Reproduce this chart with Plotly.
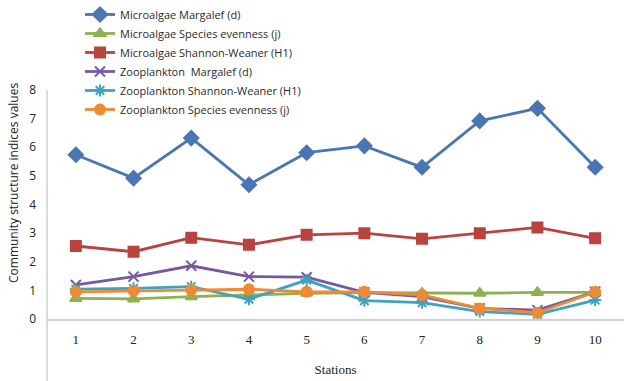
import plotly.graph_objects as go

# Sampling stations along the x axis
stations = [1, 2, 3, 4, 5, 6, 7, 8, 9, 10]
y_ticks = [0, 1, 2, 3, 4, 5, 6, 7, 8]

# Community structure indices per station
micro_margalef = [5.74, 4.92, 6.32, 4.69, 5.81, 6.05, 5.30, 6.92, 7.36, 5.30]
micro_evenness = [0.72, 0.70, 0.78, 0.84, 0.90, 0.92, 0.90, 0.90, 0.93, 0.93]
micro_shannon = [2.55, 2.35, 2.84, 2.59, 2.94, 3.00, 2.80, 3.00, 3.20, 2.82]
zoo_margalef = [1.19, 1.48, 1.86, 1.48, 1.46, 0.93, 0.78, 0.37, 0.31, 0.95]
zoo_shannon = [1.04, 1.07, 1.13, 0.69, 1.36, 0.64, 0.57, 0.26, 0.16, 0.66]
zoo_evenness = [0.95, 0.99, 1.01, 1.04, 0.95, 0.95, 0.84, 0.37, 0.22, 0.95]

series = [
    ("Microalgae Margalef (d)", micro_margalef, "#4A76B4", "diamond", 11),
    ("Microalgae Species evenness (j)", micro_evenness, "#8DB14E", "triangle-up", 10),
    ("Microalgae Shannon-Weaner (H1)", micro_shannon, "#B8433F", "square", 10),
    ("Zooplankton  Margalef (d)", zoo_margalef, "#7659A0", "x-thin-open", 10),
    ("Zooplankton Shannon-Weaner (H1)", zoo_shannon, "#3FA3BE", "asterisk-open", 10),
    ("Zooplankton Species evenness (j)", zoo_evenness, "#EE8A35", "circle", 10),
]

fig = go.Figure()
for name, vals, color, symbol, size in series:
    fig.add_trace(go.Scatter(
        x=stations, y=vals, name=name, mode="lines+markers",
        line=dict(color=color, width=2.8),
        marker=dict(symbol=symbol, size=size, color=color,
                    line=dict(color=color, width=2)),
    ))

sans = "Open Sans, sans-serif"
serif = "Liberation Serif, Times New Roman, serif"

fig.update_layout(
    width=624, height=381,
    margin=dict(l=47, r=0, t=90, b=62),
    paper_bgcolor="white", plot_bgcolor="white",
    showlegend=True,
    legend=dict(x=(80 - 47) / 577, y=1 + 90 / 229, xanchor="left", yanchor="top",
                font=dict(family=sans, size=11, color="#2A2A2A"),
                itemwidth=30, bgcolor="rgba(0,0,0,0)", tracegroupgap=0),
    xaxis=dict(range=[0.5, 10.5], tickmode="array", tickvals=stations,
               ticktext=[str(s) for s in stations], showgrid=False,
               showline=True, linecolor="#D0D0D0", linewidth=1.5,
               zeroline=False, ticks="", ticklabelstandoff=8,
               tickfont=dict(family=serif, size=13, color="#222222"),
               title=dict(text="Stations", font=dict(family=serif, size=13, color="#222222"),
                          standoff=19)),
    yaxis=dict(range=[0, 8], tickmode="array", tickvals=y_ticks,
               showgrid=False, showline=False, zeroline=False, ticks="",
               ticklabelstandoff=10,
               tickfont=dict(family=sans, size=12, color="#222222")),
    annotations=[dict(text="Community structure indices values", xref="paper", yref="paper",
                      x=-(47 - 13) / 577, y=(319 - 183) / 229, textangle=-90,
                      showarrow=False, xanchor="center", yanchor="middle",
                      font=dict(family=sans, size=12, color="#222222"))],
    shapes=[dict(type="line", xref="paper", yref="paper", x0=0, x1=0,
                 y0=-62 / 229, y1=1, line=dict(color="#D0D0D0", width=1.5))],
)

fig.write_html("out.html")
